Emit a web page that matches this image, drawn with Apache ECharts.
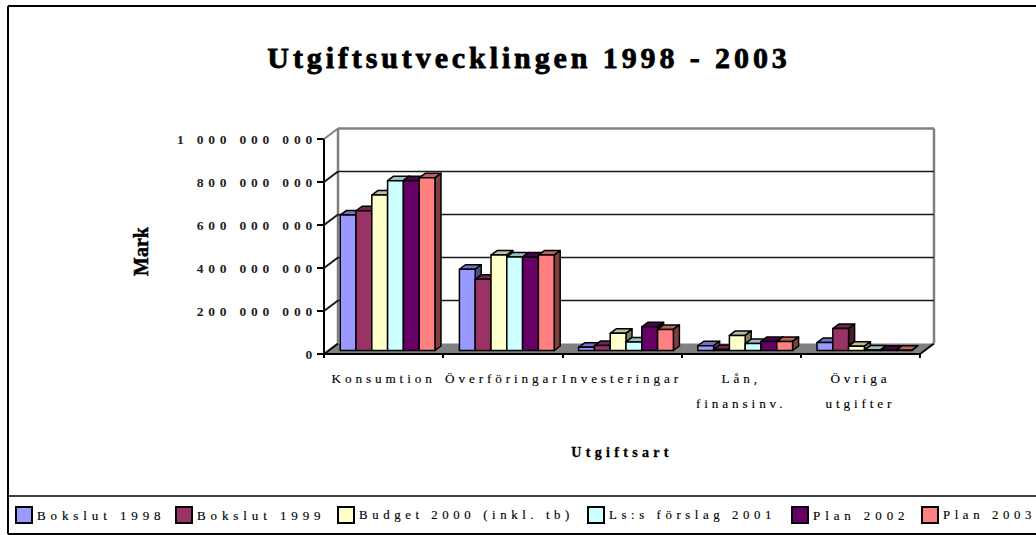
<!DOCTYPE html>
<html><head><meta charset="utf-8">
<style>
html,body{margin:0;padding:0;background:#fff;overflow:hidden}
#c{width:1036px;height:535px}
svg text[style*="30px"]{letter-spacing:3.9px;stroke:#000;stroke-width:.8px}
svg text[style*="20px"]{stroke:#000;stroke-width:.5px}
svg text[style*="13.5px"]{letter-spacing:4.8px}
svg text[style*="13.2px"]{letter-spacing:3.9px;stroke:#000;stroke-width:.15px}
svg text[style*="13px"]{letter-spacing:4.9px;stroke:#000;stroke-width:.15px}
svg text[style*="12.8px"]{letter-spacing:4.6px;stroke:#000;stroke-width:.15px}
svg text[style*="14px"]{letter-spacing:4.3px;stroke:#000;stroke-width:.3px}
</style>
<script src="https://cdn.jsdelivr.net/npm/echarts@6/dist/echarts.min.js"></script>
</head><body><div id="c"></div>
<script>
var categories = ['Konsumtion','Överföringar','Investeringar','Lån,\nfinansinv.','Övriga\nutgifter'];
var bokslut1998 = [630000000,378000000,15000000,22000000,37000000];
var bokslut1999 = [650000000,331000000,23000000,5000000,102000000];
var budget2000  = [723000000,444000000,80000000,70000000,20000000];
var forslag2001 = [790000000,435000000,40000000,32000000,2000000];
var plan2002    = [790000000,435000000,110000000,42000000,1000000];
var plan2003    = [803000000,444000000,98000000,42000000,1000000];
var seriesNames = ['Bokslut 1998','Bokslut 1999','Budget 2000 (inkl. tb)','Ls:s förslag 2001','Plan 2002','Plan 2003'];
var seriesValues = [bokslut1998,bokslut1999,budget2000,forslag2001,plan2002,plan2003];
var seriesColors = ['#9999FF','#993366','#FFFFCC','#CCFFFF','#660066','#FF8080'];
var yTicks = [0,200000000,400000000,600000000,800000000,1000000000];
var legendLefts = [15,175,337,587,791,921];
var legendFontSizes = [13,13,12.8,12.8,13,12.8];

var WALL_DX = 14, WALL_DY = -10.5, BAR_SHIFT_X = 4, BAR_SHIFT_Y = -3.5, BAR_DX = 6, BAR_DY = -4.5;

function shade(hex,f){
  var n = parseInt(hex.slice(1),16);
  var r = Math.round((n>>16&255)*f), g = Math.round((n>>8&255)*f), b = Math.round((n&255)*f);
  return 'rgb('+r+','+g+','+b+')';
}
function fmt(v){ return String(v).replace(/\B(?=(\d{3})+(?!\d))/g,' '); }

function renderWall(params, api){
  var cs = params.coordSys;
  var v = api.value(0);
  var y = api.coord([0,v])[1];
  var x0 = cs.x, x1 = cs.x + cs.width;
  var top = v === yTicks[yTicks.length-1];
  var children = [];
  if (v === 0) {
    children.push({type:'polygon',shape:{points:[[x0,y-1],[x1,y-1],[x1+WALL_DX,y+WALL_DY],[x0+WALL_DX,y+WALL_DY]]},style:{fill:'#808080',stroke:null}});
    children.push({type:'line',shape:{x1:x1,y1:y,x2:x1+WALL_DX,y2:y+WALL_DY},style:{stroke:'#000',lineWidth:2}});
    var yTop = api.coord([0,yTicks[yTicks.length-1]])[1];
    children.push({type:'line',shape:{x1:x0+WALL_DX,y1:yTop+WALL_DY,x2:x0+WALL_DX,y2:y+WALL_DY},style:{stroke:'#808080',lineWidth:2.5}});
    children.push({type:'line',shape:{x1:x1+WALL_DX,y1:yTop+WALL_DY,x2:x1+WALL_DX,y2:y+WALL_DY},style:{stroke:'#808080',lineWidth:2.5}});
    children.push({type:'line',shape:{x1:x0,y1:y,x2:x0+WALL_DX,y2:y+WALL_DY},style:{stroke:'#000',lineWidth:2}});
  } else {
    var col = top ? '#808080' : '#1a1a1a';
    children.push({type:'line',shape:{x1:x0,y1:y,x2:x0+WALL_DX,y2:y+WALL_DY},style:{stroke:col,lineWidth:2}});
    children.push({type:'line',shape:{x1:x0+WALL_DX,y1:y+WALL_DY,x2:x1+WALL_DX,y2:y+WALL_DY},style:{stroke:col,lineWidth:top?2.5:1.6}});
  }
  return {type:'group',children:children};
}

function makeBar(idx){
  return function(params, api){
    var cat = api.value(0), val = api.value(1);
    var base = api.coord([cat,0]), tip = api.coord([cat,val]);
    var band = api.size([1,0])[0];
    var w = band*0.1325;
    var x = base[0] - 3*w + idx*w + BAR_SHIFT_X;
    var yb = base[1] + BAR_SHIFT_Y, yt = tip[1] + BAR_SHIFT_Y;
    var c = seriesColors[idx];
    var edge = {stroke:'#000',lineWidth:1.5,lineJoin:'round'};
    return {type:'group',children:[
      {type:'polygon',shape:{points:[[x,yt],[x+BAR_DX,yt+BAR_DY],[x+w+BAR_DX,yt+BAR_DY],[x+w,yt]]},style:Object.assign({fill:shade(c,0.75)},edge)},
      {type:'polygon',shape:{points:[[x+w,yt],[x+w+BAR_DX,yt+BAR_DY],[x+w+BAR_DX,yb+BAR_DY],[x+w,yb]]},style:Object.assign({fill:shade(c,0.5)},edge)},
      {type:'rect',shape:{x:x,y:yt,width:w,height:yb-yt},style:Object.assign({fill:c},edge)}
    ]};
  };
}

var series = [{
  name:'Vägg', type:'custom', coordinateSystem:'cartesian2d', silent:true, z:1, clip:false,
  renderItem:renderWall, encode:{y:0}, data:yTicks.map(function(v){return [v];})
}];
seriesNames.forEach(function(n,i){
  series.push({
    name:n, type:'custom', coordinateSystem:'cartesian2d', z:2+i, clip:false,
    itemStyle:{color:seriesColors[i]},
    renderItem:makeBar(i), encode:{x:0,y:1},
    data:seriesValues[i].map(function(v,k){return [k,v];})
  });
});

var serif = '"Liberation Serif"';
var chart = echarts.init(document.getElementById('c'),null,{renderer:'svg'});
chart.setOption({
  animation:false,
  backgroundColor:'#fff',
  title:{text:'Utgiftsutvecklingen 1998 - 2003',left:524,top:37,textAlign:'center',
    textStyle:{fontFamily:serif,fontWeight:'bold',fontSize:30,color:'#000'}},
  legend:seriesNames.map(function(n,i){
    return {data:[n],left:legendLefts[i],top:506,padding:0,itemWidth:16,itemHeight:16,icon:'rect',selectedMode:false,
      itemStyle:{borderColor:'#000',borderWidth:2},
      textStyle:{fontFamily:serif,fontSize:legendFontSizes[i],color:'#000'}};
  }),
  grid:{left:324,right:116,top:139,bottom:181,containLabel:false},
  xAxis:{type:'category',data:categories,name:'Utgiftsart',nameLocation:'middle',nameGap:91,
    nameTextStyle:{fontFamily:serif,fontWeight:'bold',fontSize:14,color:'#000'},
    axisLine:{lineStyle:{color:'#000',width:2}},axisTick:{show:true,length:4,alignWithLabel:false,lineStyle:{color:'#000',width:2}},
    axisLabel:{interval:0,hideOverlap:false,margin:12,lineHeight:25,fontFamily:serif,fontSize:13.2,color:'#000'},
    splitLine:{show:false}},
  yAxis:{type:'value',min:0,max:1000000000,interval:200000000,name:'Mark',nameLocation:'middle',nameRotate:90,nameGap:173,
    nameTextStyle:{fontFamily:serif,fontWeight:'bold',fontSize:20,color:'#000',padding:[0,10,0,0]},
    axisLine:{show:true,lineStyle:{color:'#000',width:2}},axisTick:{show:true,length:7,lineStyle:{color:'#000',width:2}},
    axisLabel:{margin:7,padding:[0,0,3,0],formatter:fmt,fontFamily:serif,fontWeight:'bold',fontSize:13.5,color:'#222'},
    splitLine:{show:false}},
  graphic:[
    {type:'line',silent:true,shape:{x1:8,y1:6,x2:1036,y2:6},style:{stroke:'#000',lineWidth:2}},
    {type:'line',silent:true,shape:{x1:8,y1:6,x2:8,y2:534},style:{stroke:'#000',lineWidth:2}},
    {type:'line',silent:true,shape:{x1:8,y1:534,x2:1036,y2:534},style:{stroke:'#000',lineWidth:2}},
    {type:'line',silent:true,shape:{x1:8,y1:496,x2:1036,y2:496},style:{stroke:'#000',lineWidth:1.5}}
  ],
  series:series
});
</script></body></html>
